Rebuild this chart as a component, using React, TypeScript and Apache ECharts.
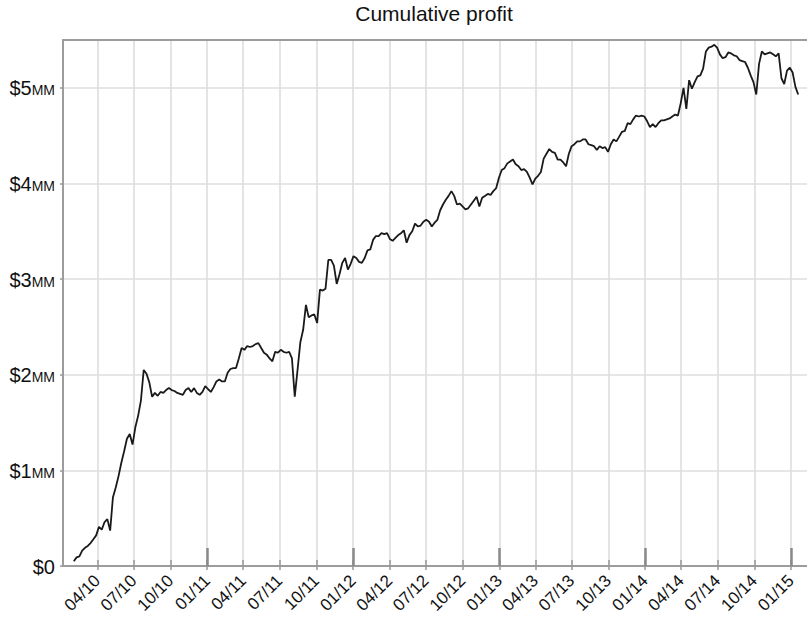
import React, { useEffect, useRef } from 'react';
import * as echarts from 'echarts';

const TITLE = 'Cumulative profit';

// Weekly observations (in $MM), first one on Feb 1, 2010, one every 7 days.
const START_YEAR = 2010;
const START_MONTH = 1; // February (0-based)
const START_DAY = 1;

const profit2010 = [
  0.05, 0.09, 0.10, 0.16, 0.19, 0.21, 0.24, 0.28, 0.32, 0.41,
  0.38, 0.46, 0.49, 0.37, 0.72, 0.82, 0.94, 1.08, 1.20, 1.33,
  1.38, 1.27, 1.45, 1.57, 1.73, 2.05, 2.01, 1.92, 1.77, 1.81,
  1.78, 1.82, 1.81, 1.84, 1.86, 1.84, 1.83, 1.81, 1.80, 1.79,
  1.84, 1.86, 1.82, 1.86, 1.81, 1.79, 1.82, 1.88, 1.85, 1.82,
  1.87, 1.93,
];
const profit2011 = [
  1.95, 1.93, 1.93, 2.02, 2.06, 2.07, 2.07, 2.17, 2.28, 2.26,
  2.30, 2.29, 2.30, 2.32, 2.33, 2.28, 2.23, 2.21, 2.17, 2.14,
  2.24, 2.23, 2.26, 2.24, 2.23, 2.24, 2.17, 1.77, 2.05, 2.34,
  2.47, 2.73, 2.60, 2.62, 2.63, 2.54, 2.89, 2.88, 2.90, 3.20,
  3.20, 3.14, 2.95, 3.05, 3.17, 3.22, 3.10, 3.16, 3.24, 3.22,
  3.18, 3.17,
];
const profit2012 = [
  3.22, 3.30, 3.31, 3.41, 3.45, 3.45, 3.48, 3.47, 3.48, 3.42,
  3.40, 3.43, 3.46, 3.48, 3.51, 3.38, 3.46, 3.50, 3.58, 3.55,
  3.56, 3.60, 3.62, 3.60, 3.55, 3.59, 3.62, 3.72, 3.78, 3.83,
  3.87, 3.92, 3.87, 3.78, 3.79, 3.76, 3.73, 3.74, 3.78, 3.82,
  3.86, 3.76, 3.85, 3.87, 3.89, 3.88, 3.92, 3.95, 4.06, 4.14,
  4.16, 4.21,
];
const profit2013 = [
  4.23, 4.25, 4.20, 4.18, 4.14, 4.15, 4.12, 4.06, 3.99, 4.05,
  4.08, 4.12, 4.26, 4.31, 4.36, 4.33, 4.32, 4.25, 4.25, 4.22,
  4.18, 4.31, 4.39, 4.41, 4.44, 4.44, 4.46, 4.46, 4.41, 4.40,
  4.39, 4.35, 4.39, 4.37, 4.38, 4.33, 4.41, 4.46, 4.44, 4.49,
  4.54, 4.55, 4.63, 4.62, 4.67, 4.71, 4.70, 4.71, 4.70, 4.65,
  4.59, 4.62,
];
const profit2014 = [
  4.59, 4.63, 4.66, 4.66, 4.67, 4.68, 4.70, 4.72, 4.71, 4.84,
  5.00, 4.78, 5.08, 4.99, 5.06, 5.12, 5.13, 5.20, 5.38, 5.42,
  5.43, 5.45, 5.42, 5.35, 5.31, 5.32, 5.37, 5.36, 5.34, 5.33,
  5.29, 5.28, 5.27, 5.21, 5.13, 5.06, 4.93, 5.25, 5.38, 5.35,
  5.36, 5.37, 5.35, 5.33, 5.36, 5.10, 5.04, 5.18, 5.21, 5.16,
  5.01, 4.93,
];

const quarterTicks = [
  '2010-04', '2010-07', '2010-10', '2011-01', '2011-04', '2011-07', '2011-10',
  '2012-01', '2012-04', '2012-07', '2012-10', '2013-01', '2013-04', '2013-07',
  '2013-10', '2014-01', '2014-04', '2014-07', '2014-10', '2015-01',
];
const yearTicks = ['2011-01', '2012-01', '2013-01', '2014-01', '2015-01'];
const yTicks = [0, 1, 2, 3, 4, 5];
const X_MIN = '2010-01-05';
const X_MAX = '2015-02-10';
const Y_MAX = 5.5;

const FONT = "'Liberation Sans', Arial, Helvetica, sans-serif";
const GRID_COLOR = '#dedede';
const AXIS_COLOR = '#9c9c9c';

function monthTs(s: string) {
  const [y, m] = s.split('-').map(Number);
  return new Date(y, m - 1, 1).getTime();
}
function dayTs(s: string) {
  const [y, m, d] = s.split('-').map(Number);
  return new Date(y, m - 1, d).getTime();
}

export default function App() {
  const ref = useRef<HTMLDivElement>(null);
  useEffect(() => {
    if (!ref.current) return;
    const chart = echarts.init(ref.current, null, { renderer: 'svg' });
    const values = [...profit2010, ...profit2011, ...profit2012, ...profit2013, ...profit2014];
    const data = values.map((v, i) => [
      new Date(START_YEAR, START_MONTH, START_DAY + 7 * i).getTime(),
      v,
    ]);
    const qs = quarterTicks.map(monthTs);
    const ys = yearTicks.map(monthTs);
    const xmin = dayTs(X_MIN);
    const xmax = dayTs(X_MAX);
    const pad = (n: number) => (n < 10 ? '0' + n : '' + n);
    const baseX = {
      type: 'value' as const,
      min: xmin,
      max: xmax,
      gridIndex: 0,
    };
    chart.setOption({
      animation: false,
      title: {
        text: TITLE,
        left: 434,
        textAlign: 'center',
        top: 3,
        padding: 0,
        textStyle: { fontFamily: FONT, fontSize: 21, fontWeight: 'normal', color: '#111' },
      },
      grid: { left: 63, right: 0, top: 40, bottom: 52, containLabel: false },
      xAxis: [
        {
          ...baseX,
          position: 'bottom',
          axisLine: { show: true, lineStyle: { color: AXIS_COLOR, width: 2 } },
          axisTick: {
            show: true,
            customValues: qs,
            length: 4,
            inside: false,
            lineStyle: { color: '#999', width: 1.5 },
          },
          axisLabel: {
            show: true,
            customValues: qs,
            rotate: 45,
            margin: 12,
            fontFamily: FONT,
            fontSize: 17,
            color: '#111',
            formatter: (v: number) => {
              const d = new Date(v);
              return pad(d.getMonth() + 1) + '/' + pad(d.getFullYear() % 100);
            },
          },
          splitLine: { show: true, lineStyle: { color: GRID_COLOR, width: 1.6 } },
        },
        {
          ...baseX,
          position: 'bottom',
          axisLine: { show: false },
          axisTick: {
            show: true,
            customValues: qs,
            length: 6,
            inside: true,
            lineStyle: { color: '#999', width: 1.5 },
          },
          axisLabel: { show: false },
          splitLine: { show: false },
        },
        {
          ...baseX,
          position: 'bottom',
          axisLine: { show: false },
          axisTick: {
            show: true,
            customValues: ys,
            length: 18,
            inside: true,
            lineStyle: { color: '#8a8a8a', width: 2.5 },
          },
          axisLabel: { show: false },
          splitLine: { show: false },
        },
        {
          ...baseX,
          position: 'top',
          axisLine: { show: true, lineStyle: { color: AXIS_COLOR, width: 2 } },
          axisTick: { show: false },
          axisLabel: { show: false },
          splitLine: { show: false },
        },
      ],
      yAxis: {
        type: 'value',
        min: 0,
        max: Y_MAX,
        interval: 1,
        axisLine: { show: true, lineStyle: { color: AXIS_COLOR, width: 2 } },
        axisTick: {
          show: true,
          customValues: yTicks,
          length: 3,
          lineStyle: { color: '#999', width: 1.5 },
        },
        axisLabel: {
          customValues: yTicks,
          margin: 8,
          fontFamily: FONT,
          fontSize: 20,
          color: '#111',
          formatter: (v: number) => (v === 0 ? '{a|$0}' : '{a|$' + v + '}{b|MM}'),
          rich: {
            a: { fontFamily: FONT, fontSize: 20, color: '#111', verticalAlign: 'bottom', lineHeight: 21 },
            b: { fontFamily: FONT, fontSize: 14, color: '#111', verticalAlign: 'bottom', lineHeight: 21, padding: [0, 0, 1, 0] },
          },
        },
        splitLine: { show: true, lineStyle: { color: GRID_COLOR, width: 1.6 } },
      },
      series: [
        {
          type: 'line',
          xAxisIndex: 0,
          yAxisIndex: 0,
          data,
          showSymbol: false,
          symbol: 'none',
          lineStyle: { color: '#1a1a1a', width: 1.8 },
          z: 5,
        },
      ],
    });
    return () => chart.dispose();
  }, []);
  return (
    <div
      ref={ref}
      style={{ position: 'fixed', left: 0, top: 0, width: 807, height: 618, background: '#fff' }}
    />
  );
}
